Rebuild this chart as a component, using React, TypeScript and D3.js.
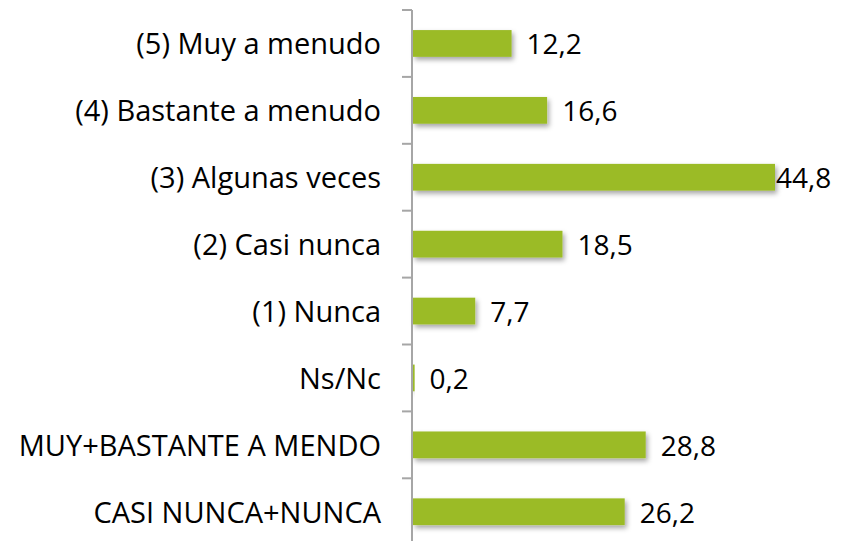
import React, { useEffect, useRef } from "react";
import * as d3 from "d3";

const categories = [
  "(5) Muy a menudo",
  "(4) Bastante a menudo",
  "(3) Algunas veces",
  "(2) Casi nunca",
  "(1) Nunca",
  "Ns/Nc",
  "MUY+BASTANTE A MENDO",
  "CASI NUNCA+NUNCA",
];
const values = [12.2, 16.6, 44.8, 18.5, 7.7, 0.2, 28.8, 26.2];
const valueLabels = ["12,2", "16,6", "44,8", "18,5", "7,7", "0,2", "28,8", "26,2"];

const App = () => {
  const ref = useRef<SVGSVGElement>(null);

  useEffect(() => {
    const width = 841,
      height = 541;
    const x0 = 412;
    const top = 10,
      band = 66.9;

    const svg = d3.select(ref.current).attr("width", width).attr("height", height);
    svg.selectAll("*").remove();

    const defs = svg.append("defs");
    const f = defs.append("filter").attr("id", "shadow").attr("x", "-10%").attr("y", "-30%").attr("width", "130%").attr("height", "190%");
    f.append("feDropShadow").attr("dx", 2).attr("dy", 3).attr("stdDeviation", 2.5).attr("flood-color", "#000").attr("flood-opacity", 0.35);

    const xScale = d3.scaleLinear().domain([0, 44.8]).range([x0 + 1, 775]);
    const yScale = d3
      .scaleBand()
      .domain(categories)
      .range([top, top + band * categories.length])
      .paddingInner(0.6)
      .paddingOuter(0.3);

    const font = "'Open Sans', 'DejaVu Sans', sans-serif";
    const fs = 29;

    // bars
    svg
      .selectAll(".bar")
      .data(values)
      .join("rect")
      .attr("class", "bar")
      .attr("x", xScale(0))
      .attr("y", (d, i) => yScale(categories[i])!)
      .attr("width", (d) => xScale(d) - xScale(0))
      .attr("height", yScale.bandwidth())
      .attr("fill", "#9BBB27")
      .attr("filter", "url(#shadow)");

    // value labels
    svg
      .selectAll(".val")
      .data(values)
      .join("text")
      .attr("class", "val")
      .attr("x", (d) => xScale(d) + (d > 40 ? 1 : 15))
      .attr("y", (d, i) => yScale(categories[i])! + yScale.bandwidth() / 2 + 11)
      .attr("font-family", font)
      .attr("font-size", fs - 1)
      .attr("fill", "#000")
      .text((d, i) => valueLabels[i]);

    // axis
    const axisG = svg.append("g");
    axisG
      .append("line")
      .attr("x1", x0)
      .attr("x2", x0)
      .attr("y1", top)
      .attr("y2", height)
      .attr("stroke", "#A6A6A6")
      .attr("stroke-width", 2);
    const tickYs = d3.range(categories.length).map((i) => top + i * band);
    axisG
      .selectAll(".tick")
      .data(tickYs)
      .join("line")
      .attr("class", "tick")
      .attr("x1", x0 - 10)
      .attr("x2", x0)
      .attr("y1", (d) => d)
      .attr("y2", (d) => d)
      .attr("stroke", "#A6A6A6")
      .attr("stroke-width", 2);

    // category labels
    svg
      .selectAll(".cat")
      .data(categories)
      .join("text")
      .attr("class", "cat")
      .attr("x", 381)
      .attr("y", (d) => yScale(d)! + yScale.bandwidth() / 2 + 11)
      .attr("text-anchor", "end")
      .attr("font-family", font)
      .attr("font-size", fs)
      .attr("fill", "#000")
      .text((d) => d);
  }, []);

  return <svg ref={ref} style={{ position: "absolute", left: 0, top: 0 }} />;
};

export default App;
